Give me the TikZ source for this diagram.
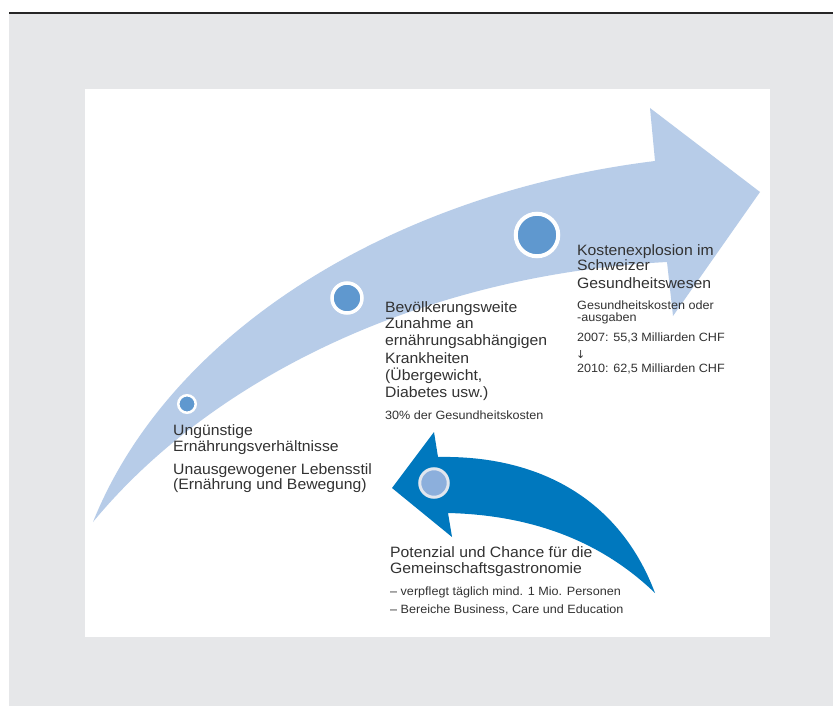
\documentclass[tikz,border=0pt]{standalone}
\usepackage{fontspec}
\setmainfont{Liberation Sans}[FakeStretch=1.05]
\newfontfamily\dvsfont{DejaVu Sans}
\definecolor{bggray}{RGB}{230,231,233}
\definecolor{lightarrow}{RGB}{183,204,232}
\definecolor{darkarrow}{RGB}{0,120,190}
\definecolor{dotblue}{RGB}{95,152,207}
\definecolor{dotlight}{RGB}{140,175,220}
\definecolor{ringlight}{RGB}{225,230,238}
\definecolor{txtgray}{RGB}{50,50,50}
\newcommand{\bigtxt}{\fontsize{15}{16}\selectfont}
\newcommand{\smalltxt}{\fontsize{12}{12}\selectfont}
\begin{document}
\begin{tikzpicture}[x=1pt,y=-1pt,
  bigline/.style={font=\bigtxt, anchor=base west, inner sep=0pt, text=txtgray},
  smallline/.style={font=\smalltxt, anchor=base west, inner sep=0pt, text=txtgray},
  dotc/.style={circle, inner sep=0pt, outer sep=0pt, fill=dotblue, draw=white}]
\useasboundingbox (0,0) rectangle (833,706);
% background
\fill[bggray] (9,14) rectangle (833,706);
\draw[line width=2pt, color=black!85] (9,13) -- (833,13);
\fill[white] (85,89) rectangle (770,637);
% big light arrow
\fill[lightarrow] (93,522) .. controls (170,330) and (395,193) .. (655,161)
  -- (650,108) -- (760,192) -- (673,316) -- (667,262)
  .. controls (420,275) and (210,380) .. (93,522) -- cycle;
% dark arrow
\fill[darkarrow] (392,488) -- (434,432) -- (438,457)
  .. controls (540,455) and (620,500) .. (655,593)
  .. controls (600,540) and (530,515) .. (448,513)
  -- (452,537) -- cycle;
% dots
\node[dotc, line width=2.5pt, minimum size=17.5pt] (c1) at (187,404) {};
\node[dotc, line width=3.5pt, minimum size=30pt] (c2) at (347,298) {};
\node[dotc, line width=4pt, minimum size=42.5pt] (c3) at (537,235) {};
\node[dotc, fill=dotlight, draw=ringlight, line width=3pt, minimum size=28.5pt] (c4) at (434,483) {};
% block 1
\node[bigline] (a1) at (173,435) {Ungünstige};
\node[bigline] (a2) at (173,451) {Ernährungsverhältnisse};
\node[bigline] (a3) at (173,474) {Unausgewogener Lebensstil};
\node[bigline] (a4) at (173,489) {(Ernährung und Bewegung)};
% block 2
\node[bigline] (b1) at (385,312) {Bevölkerungsweite};
\node[bigline] (b2) at (385,328) {Zunahme an};
\node[bigline] (b3) at (385,345) {ernährungsabhängigen};
\node[bigline] (b4) at (385,363) {Krankheiten};
\node[bigline] (b5) at (385,380) {(Übergewicht,};
\node[bigline] (b6) at (385,397) {Diabetes usw.)};
\node[smallline] (b7) at (385,419) {30\% der Gesundheitskosten};
% block 3
\node[bigline] (k1) at (577,255) {Kostenexplosion im};
\node[bigline] (k2) at (577,270) {Schweizer};
\node[bigline] (k3) at (577,288) {Gesundheitswesen};
\node[smallline] (k4) at (577,309) {Gesundheitskosten oder};
\node[smallline] (k5) at (577,321) {-ausgaben};
\node[smallline] (k6) at (577,341) {2007: 55,3 Milliarden CHF};
\node[smallline, font=\dvsfont\fontsize{11}{11}\selectfont] (k7) at (576,358) {↓};
\node[smallline] (k8) at (577,372) {2010: 62,5 Milliarden CHF};
% block 4
\node[bigline] (p1) at (390,557) {Potenzial und Chance für die};
\node[bigline] (p2) at (390,573) {Gemeinschaftsgastronomie};
\node[smallline] (p3) at (390,595) {– verpflegt täglich mind. 1 Mio. Personen};
\node[smallline] (p4) at (390,613) {– Bereiche Business, Care und Education};
\end{tikzpicture}
\end{document}
